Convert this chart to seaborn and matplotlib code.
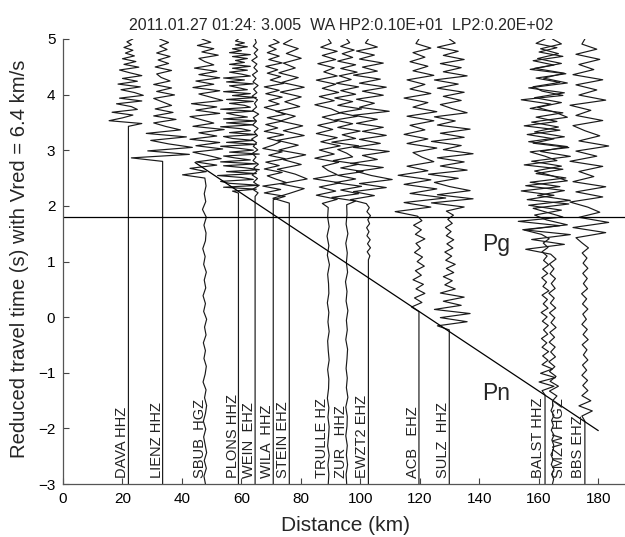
import matplotlib
matplotlib.use("Agg")
import matplotlib.pyplot as plt
import numpy as np
import pandas as pd
import seaborn as sns

sns.set_style("ticks")
plt.rcParams["font.family"] = ["Liberation Sans", "DejaVu Sans"]

# station table
stations = ["DAVA HHZ", "LIENZ HHZ", "SBUB  HGZ", "PLONS HHZ", "WEIN  EHZ",
            "WILA  HHZ", "STEIN EHZ", "TRULLE HZ", "ZUR   HHZ", "EWZT2 EHZ",
            "ACB   EHZ", "SULZ  HHZ", "BALST HHZ", "SMZW HGZ", "BBS EHZ"]
distance_km = [22.0, 33.5, 47.7, 59.0, 64.6, 70.7, 76.1, 89.2, 95.4, 102.7,
               119.7, 129.9, 162.1, 164.6, 175.5]
label_km = [19.7, 31.5, 46.0, 57.2, 62.5, 68.5, 74.1, 87.0, 93.4, 100.6,
            117.8, 127.9, 159.8, 166.9, 173.3]
onset_s = [3.43, 2.80, 2.50, 2.23, 2.17, 2.11, 2.05, 1.97, 2.02, 1.03,
           0.10, -0.23, -1.40, -3.0, -1.87]

dava_wave = [0, 4.5, -6.5, -2, 1.5, -5.5, 3, 1, -4, 4.5, -3, 5, 2, -2.5, 4,
             -3.5, 3, -2, 4.5, 0.5, -3, 3.5, -1.5, 2.5, -2, 2, -1, 1.5, -1.5,
             1, -0.5, 1.5]
lienz_wave = [0, -10.5, 9, -5, 10, 2, -4, 8, -5.5, 6, 1, -3, 4.5, -3, 3.5,
              -2.5, 3, 0, -3, 4, -2, 3, -3, 2.5, -0.5, -2, 3, -2.5, 2, -1.5,
              2.5, -2, 1.5, -1, 2, -1]
sbub_wave = [0, -7.5, 0.5, -5, 4, -3, 5.5, 1, -4, 6, -3, 5, -5, 4, -2, 6.5,
             -4, 3, -1, -5, 5, -3, 4, -4.5, 6, 2, -2, 5, -4, 3, -3, 5, -2, 4,
             -3.5, 3, 0, -2, 4.5, -1, 3, -2.5, 2, -1]
plons_wave = [0, -2, 6, -5, 7, -3, -6, 5, 1, -7, 6, -4, 7, 2, -5, 6, -6, 4,
              -1, -5, 7, -3, 5, 0, -6, 6, -4, 5, -2, -5, 6, -3, 4, 1, -6, 5,
              -4, 6, -5, 3, -1, -4, 5, -6, 4, 2, -3, 5, -4, 6, -2, 4, -5, 3,
              0, -3, 5, -4, 2, -5, 4, 1, -3, 3, -2, 4, -3, 2, -1, 3, -2, 4,
              -3, 1, -2, 3, -1, 2, -1, 0]
wein_wave = [0, 1, -0.8, 1.2, -0.5, 0.8, -1, 0.6, -0.4, 1.1, -0.7, 0.3, -1, 0.9,
             -0.6, 0.5, -1.2, 0.8, -0.3, 1, -0.8, 0.4, -0.6, 1.2, -0.9, 0.5,
             -0.2, 0.8, -1, 0.6, -0.5, 1, -0.7, 0.3, -0.9, 0.8, -0.4, 0.6,
             -1.1, 0.7, -0.3, 0.9, -0.6, 0.4, 0]
wila_wave = [0, 4, -3, 2.5, -3.5, 4.5, 1, -2, 3, -3, 2, -2.5, 4, -1.5, 3,
             -3.5, 0, 2.5, -2, 3.5, -3, 1.5, -2.5, 3, -2, 4, 1, -3, 2, -1.5,
             3, -2.5, 2, -3, 3.5, -1, 2.5, -2, 1.5, -2.5, 3, -1.5, 2, -2, 1,
             -1.5, 2, 0]
stein_wave = [0, -5.5, 0, 5, -3, 6, 2, -4, 4, -2, 5.5, -3.5, 3, -4, 5, -2,
              4.5, -3, 2, -4.5, 3.5, -1.5, 4, -3, 5, -2.5, 3, -3.5, 2, -2, 4,
              -1, 3, -2, 1]
trulle_wave = [0, -2, 3, -4, 2.5, -3, 4, -5, 3, 0, -2, 3.5, -4.5, 2, -3, 4,
               -2.5, 3, -4, 1.5, -3.5, 3, -2, 4, 1, -4.5, 2, -3, 3.5, -2, 2.5,
               -4, 3, -1.5, 2, -3.5, 2.5, -2, 3, -2.5, 1, 0]
zur_wave = [0, 3, -5, 4, -2, 5, -4, 3, -3, 5.5, -2, 4, -4.5, 2, 0, -3, 4, -5,
            3, -1.5, 4.5, -3, 2, -4, 3.5, -2.5, 5, -3, 2, -4, 3, -2, 4, -3.5,
            1.5, -2.5, 3.5, -2, 3, -3, 2, -1.5, 2.5, -2, 1, 0]
ewzt2_wave = [0, 0.5, -0.4, 0.7, -0.3, 0.6, -0.5, 0.2, -0.6, 0.4, -0.2, 0.7,
              -0.5, 0.3, -0.7, -6, 2, -5, 6, -3, 8, 1, -4, 5, -6, 3, -2, 7, -5,
              4, -3, 6, -2, 5, -4, 3, -5, 7, -3, 2, -4, 5, -2, 6, -3, 4, -5,
              3, -2, 5, -3, 2, -4, 3, -1, 0]
acb_wave = [0, -2.5, 1, -1.5, 2, -1, 1.5, -2, 0.8, -1.2, 1.8, -0.6, 1.2, -1.5,
            0.5, -1, 2, -1.2, 0.8, -1.8, 1, -0.5, -8, 4, -5, 9, -3, 6, -5, 4,
            -7, 3, -4, 5, 1, -2, 6, -4, 3, -5, 2, -3, 5, -4, 6, -2, 3, -5, 4,
            -3, 2, -4, 5, -2, 3, -3, 2, -2, 4, -1, 0]
sulz_wave = [0, -4, 6, -3, 7, -5, 4, -2, 5, -3, 2, -1.5, 1, -2, 1.5, -1, 2,
             -1.2, 0.8, -1.5, 1.2, -0.8, 1.5, -1, 0.6, -1.3, 1, -0.5, 1.4, -1,
             5, -6, 8, -4, 7, 0, -5, 3, -7, 6, -3, 5, -4, 8, -2, 4, -6, 5, -3,
             7, -4, 2, -5, 6, 1, -3, 4, -2, 5, -4, 3, -5, 6, -2, 4, -3, 5, -2,
             3, -4, 2, 0]
balst_wave = [0, -1, 3, -2, 3.5, -1.5, 2.5, -1, 1, -0.8, 1.2, -1, 0.6, -1.2,
              0.9, -0.5, 1.1, -0.9, 0.7, -1.3, 1, -0.6, 0.8, -1, 1.3, -0.7, 0.5,
              -1.1, 0.9, -0.8, 1.2, -0.5, 0.7, -1, 1, -0.6, 1.4, -1.2, -7, 5,
              -9, 6, 1, -4, 8, -6, 3, -8, 5, -5, 7, -3, 6, -7, 4, 0, -5, 8, -4,
              3, -6, 5, -7, 4, -3, 6, -5, 2, -8, 6, -1, -4, 5, -3, 7, -5, 3,
              -4, 6, -2, 4, -3, 0]
smzw_wave = [0, 0.4, -0.3, 0.5, -0.4, 0.2, -0.5, 0.3, 0.4, -0.2, 0.5, -0.4, 0.3,
             -0.3, 0.5, -0.5, 0.2, 0, 1.5, -1, 2, -0.8, 1.2, -1, 0.8, -1.2, 1,
             -0.6, 0.9, -1.1, 0.7, -0.9, 1.2, -0.5, 0.8, -1, 1.1, -0.7, 0.6,
             -1.2, 0.9, -0.4, 1, -0.8, 0.5, -1, 1.2, -0.6, -9, 4, -7, 6, -10,
             5, -2, -6, 3, -8, 6, -5, 4, -9, 5, 0, -6, 3, -7, 6, -4, 5, -8, 4,
             -6, 2, -7, 5, 1, -5, 3, -6, 4, -8, 5, -3, 4, -6, 3, -5, 2, -4, 3,
             0]
bbs_wave = [0, -1, 2.5, -2, 2, -1, 1, -0.7, 0.9, -1, 0.6, -0.8, 1, -0.5, 0.7,
            -0.9, 1.1, -0.6, 0.8, -1, 0.5, -0.7, 1, -0.8, 0.6, -1.1, 0.9, -0.5,
            0.8, -0.7, 1, -0.6, 0.7, -0.9, 1.2, -1, -3, 7, -4, 8, -2, 5, 1, -5,
            6, -3, 7, -4, 3, -2, 6, -5, 4, -3, 8, -2, 5, 0, -4, 6, -3, 2, -5,
            7, -2, 4, -3, 6, -4, 3, -2, 5, -3, 4, -1, 0]

# small pre-arrival noise, -3 s -> onset
sbub_noise = [0.2, -0.3, 0.5, -0.2, 0.6, 0.1, -0.4, 0.3, -0.5, 0.2, 0.6, -0.1,
              0.4, -0.6, 0.1, 0.5, -0.3, 0.2, -0.5, 0.4, -0.1, 0.6, -0.4, 0.2,
              -0.6, 0.3, -0.2, 0.5, -0.4, 0.1, -0.7, 0.2, 0.4, -0.3, 0.5, -0.8,
              0.3, -0.2, 0.4, 0]
trulle_noise = [0, 0.2, -0.1, 0.3, -0.2, 0.1, 0.3, -0.1, 0.2, -0.3, 0.1, 0.2,
                -0.2, 0.3, 0, -0.2, 0.3, -0.1, 0.2, -0.3, 0.2, 0.1, -0.2, 0.4,
                -0.3, 0.2, -0.4, 0.3, -0.2, 0]
zur_noise = [0, -0.2, 0.3, -0.1, 0.2, -0.3, 0.1, 0.2, -0.3, 0.4, -0.1, 0.2,
             -0.2, 0.1, 0.3, -0.3, 0.2, -0.1, 0.4, -0.2, 0.1, -0.4, 0.3, -0.1,
             0.2, -0.3, 0.4, -0.2, 0.1, 0]

waves = [dava_wave, lienz_wave, sbub_wave, plons_wave, wein_wave, wila_wave,
         stein_wave, trulle_wave, zur_wave, ewzt2_wave, acb_wave, sulz_wave,
         balst_wave, smzw_wave, bbs_wave]
noises = {"SBUB  HGZ": sbub_noise, "TRULLE HZ": trulle_noise,
          "ZUR   HHZ": zur_noise}

# phase picks
pg_time = [1.8, 1.8]
pg_dist = [0, 190]
pn_dist = [44.4, 180]
pn_time = [2.78, -2.04]

title = "2011.01.27 01:24: 3.005  WA HP2:0.10E+01  LP2:0.20E+02"

fig = plt.figure(figsize=(6.25, 5.37), dpi=100)
ax = fig.add_axes([63 / 625, 53 / 537, 565 / 625, 445 / 537])

for name, dist, onset, wave in zip(stations, distance_km, onset_s, waves):
    if name in noises:
        pre = noises[name]
        t_pre = np.linspace(-3, onset, len(pre))
        x_pre = dist + np.array(pre)
    else:
        t_pre = np.array([-3.0, onset])
        x_pre = np.array([dist, dist])
    t_post = np.linspace(onset, 5, len(wave))
    x_post = dist + np.array(wave)
    df = pd.DataFrame({
        "km": np.concatenate([x_pre, x_post]),
        "t": np.concatenate([t_pre, t_post]),
    })
    sns.lineplot(data=df, x="km", y="t", sort=False, estimator=None,
                 color="#1a1a1a", linewidth=0.85, ax=ax)

sns.lineplot(x=pg_dist, y=pg_time, color="black", linewidth=0.9, ax=ax)
sns.lineplot(x=pn_dist, y=pn_time, sort=False, estimator=None,
             color="black", linewidth=0.9, ax=ax)

for name, lx in zip(stations, label_km):
    ax.text(lx, -2.9, name, rotation=90, ha="center", va="bottom",
            fontsize=10.5, color="#222222")

ax.text(145.8, 1.3, "Pg", fontsize=16.5, ha="center", va="center")
ax.text(145.8, -1.37, "Pn", fontsize=16.5, ha="center", va="center")

ax.set_xlim(0, 190)
ax.set_ylim(-3, 5)
ax.set_xticks(range(0, 181, 20))
ax.set_yticks(range(-3, 6))
ax.tick_params(direction="in", length=4, width=0.8, labelsize=11, pad=5.5,
               colors="#444444", labelcolor="black")

for side in ["top", "right"]:
    ax.spines[side].set_visible(False)
for side in ["left", "bottom"]:
    ax.spines[side].set_color("#555555")
    ax.spines[side].set_linewidth(0.9)

ax.set_xlabel("Distance (km)", fontsize=15)
ax.set_ylabel("Reduced travel time (s) with Vred = 6.4 km/s", fontsize=14.6)
ax.xaxis.set_label_coords(0.5, -0.071)
ax.yaxis.set_label_coords(-0.061, 0.505)

fig.text(341 / 625, 1 - 26 / 537, title, ha="center", va="center",
         fontsize=11.5)

fig.savefig("out.png", dpi=100)
